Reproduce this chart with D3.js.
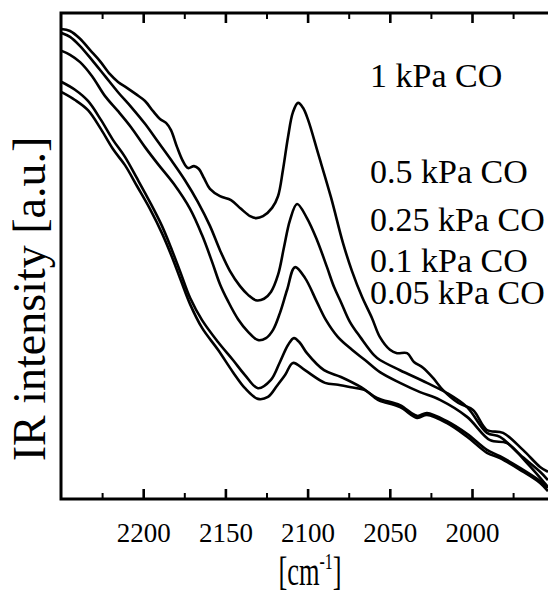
<!DOCTYPE html>
<html>
<head>
<meta charset="utf-8">
<script src="https://cdn.jsdelivr.net/npm/d3@7"></script>
<style>
  html, body { margin: 0; padding: 0; background: #fff; }
  svg { display: block; }
  text { font-family: "Liberation Serif", "Times New Roman", serif; fill: #000; }
</style>
</head>
<body>
<script>
// ---- data (wavenumber [cm-1], IR intensity [a.u.]) ----
const labels = ["1 kPa CO", "0.5 kPa CO", "0.25 kPa CO", "0.1 kPa CO", "0.05 kPa CO"];

const co1 = [[2250,96.7],[2244.5,96.3],[2238.4,94.7],[2232.4,92.4],[2226.3,90.1],[2220.2,87.4],[2215.3,85.8],[2209.9,84.6],[2204.4,83.3],[2198.9,81.9],[2194,79.8],[2189.8,78.2],[2186.1,77.4],[2183.1,75.9],[2179.4,72.4],[2175.8,69.5],[2172.7,68.1],[2169.1,68.5],[2166.1,67.9],[2163,66.0],[2159.4,63.8],[2153.3,62.3],[2146.6,61.5],[2140.5,59.7],[2135,58.2],[2131.4,57.8],[2127.1,58.2],[2121.6,59.9],[2118,62.3],[2115,67.7],[2111.9,74.5],[2108.9,79.6],[2105.8,81.5],[2102.8,80.5],[2099.7,78.0],[2093.7,71.2],[2085.8,62.1],[2078.5,52.7],[2073,46.9],[2066.9,41.6],[2060.8,37.2],[2056,33.3],[2049.9,30.7],[2045.6,30.0],[2039.5,30.0],[2035.3,28.2],[2029.8,27.0],[2023.7,24.9],[2017.6,22.4],[2008.5,19.8],[1999.4,18.3],[1990.9,14.2],[1981.1,13.6],[1969,10.1],[1958.6,6.6],[1953.8,5.6]];

const co05 = [[2249.6,95.9],[2244.5,95.1],[2238.4,93.2],[2231.1,90.3],[2223.2,87.0],[2215.3,83.7],[2207.4,80.7],[2198.9,77.2],[2191,73.5],[2183.1,69.8],[2174.6,65.6],[2166.7,61.1],[2159.4,56.2],[2153.3,51.2],[2147.2,46.9],[2141.1,43.8],[2136.2,42.0],[2131.4,40.9],[2126.5,41.2],[2122.3,42.6],[2118,46.1],[2114.3,51.9],[2110.7,57.4],[2106.4,60.7],[2100.4,57.8],[2094.3,53.3],[2088.2,47.7],[2083.9,43.6],[2079.7,40.5],[2074.2,36.4],[2067.5,33.1],[2059.6,29.6],[2056,28.6],[2043.8,26.5],[2027.4,23.9],[2015.2,21.8],[2003,18.9],[1990.9,13.6],[1983,12.8],[1970.8,9.1],[1958.6,5.6],[1953.8,3.9]];

const co025 = [[2249.6,92.2],[2244.5,91.4],[2238.4,89.9],[2231.1,87.0],[2223.2,82.9],[2215.3,79.8],[2207.4,76.5],[2198.9,72.4],[2191,68.9],[2181.3,64.8],[2171.5,59.7],[2164.2,54.3],[2158.1,48.8],[2153.3,44.2],[2148.4,40.7],[2142.3,37.0],[2136.2,34.4],[2130.2,32.7],[2125.3,33.1],[2121,34.8],[2116.8,38.3],[2112.5,43.0],[2107.7,47.7],[2101.6,45.5],[2094.3,40.5],[2088.8,36.8],[2081.5,33.3],[2073,30.7],[2065.1,28.6],[2056,26.1],[2043.8,23.9],[2031.6,22.0],[2019.5,20.4],[2003,16.9],[1989,12.1],[1978.7,11.5],[1966.5,7.4],[1953.8,2.5]];

const co01 = [[2249.6,85.8],[2241.5,84.2],[2233.6,81.9],[2225.7,78.0],[2218.4,73.9],[2211.1,70.4],[2203.8,66.0],[2195.9,61.1],[2188.6,56.2],[2182.5,51.2],[2177,46.3],[2171.5,41.4],[2164.2,36.8],[2154.5,32.3],[2145.4,28.6],[2138.1,25.5],[2130.2,22.8],[2122.3,24.5],[2116.8,28.2],[2111.9,31.7],[2108.3,33.1],[2104.6,32.1],[2100.4,30.0],[2090,26.5],[2079.7,25.1],[2067.5,23.0],[2057.8,20.8],[2043.8,19.3],[2033.4,17.1],[2027.4,17.7],[2015.2,16.0],[2003,13.4],[1990.9,10.1],[1983,8.8],[1970.8,6.4],[1958.6,3.7],[1953.8,2.3]];

const co005 = [[2249.6,83.7],[2241.5,82.1],[2233.6,80.0],[2225.7,76.1],[2218.4,72.0],[2211.1,68.7],[2203.8,64.4],[2195.9,59.7],[2188.6,54.7],[2182.5,49.8],[2177,44.9],[2171.5,40.1],[2164.2,35.2],[2154.5,30.7],[2145.4,26.1],[2138.1,22.8],[2130.2,20.6],[2124.1,21.0],[2118.6,23.3],[2113.7,25.5],[2108.9,28.0],[2101.6,26.5],[2089.4,23.9],[2081.5,23.5],[2073.6,23.0],[2065.1,22.4],[2059,20.8],[2056,20.2],[2043.8,18.9],[2033.4,16.7],[2027.4,17.3],[2015.2,15.6],[2003,12.8],[1990.9,9.5],[1983,8.4],[1970.8,6.0],[1958.6,3.3],[1953.8,1.6]];

const series = [co1, co05, co025, co01, co005];
const majorTicks = [2200, 2150, 2100, 2050, 2000];
const minorTicks = [2225, 2175, 2125, 2075, 2025, 1975];
const xTitle = "[cm";
const xTitleSup = "-1";
const yTitle = "IR intensity [a.u.]";

// ---- layout ----
const W = 548, H = 594;
const mLeft = 61, mTop = 13, mBottom = 499;
const xDomain = [2250, 1950];
const pxPerUnit = 1.644;
const FONT = "Liberation Serif, Times New Roman, serif";

const svg = d3.select("body").append("svg").attr("width", W).attr("height", H);

const x = d3.scaleLinear().domain(xDomain).range([mLeft, mLeft + (xDomain[0] - xDomain[1]) * pxPerUnit]);
const y = d3.scaleLinear().domain([0, 100]).range([mBottom, mTop]);

svg.append("defs").append("clipPath").attr("id", "clip")
  .append("rect").attr("x", mLeft).attr("y", mTop).attr("width", W - mLeft).attr("height", mBottom - mTop);

// lines
const line = d3.line()
  .x(d => x(d[0]))
  .y(d => y(d[1]))
  .curve(d3.curveCatmullRom.alpha(0.5));

svg.append("g").attr("clip-path", "url(#clip)")
  .selectAll("path").data(series).join("path")
  .attr("d", line)
  .attr("fill", "none")
  .attr("stroke", "#000")
  .attr("stroke-width", 2.6)
  .attr("stroke-linejoin", "round");

// axes
const bottomAxis = d3.axisBottom(x).tickValues(majorTicks).tickSizeInner(-10).tickSizeOuter(0).tickPadding(0).tickFormat(d3.format("d"));
const gB = svg.append("g").attr("transform", `translate(0,${mBottom})`).call(bottomAxis);
gB.attr("font-family", FONT);
gB.select(".domain").remove();
gB.selectAll(".tick line").attr("stroke", "#000").attr("stroke-width", 2.6);
gB.selectAll(".tick text").attr("y", 43).attr("dy", null).attr("font-size", 27).attr("font-family", FONT);

const gBm = svg.append("g").attr("transform", `translate(0,${mBottom})`)
  .call(d3.axisBottom(x).tickValues(minorTicks).tickSizeInner(-6).tickSizeOuter(0).tickFormat(""));
gBm.select(".domain").remove();
gBm.selectAll(".tick line").attr("stroke", "#000").attr("stroke-width", 2);

const gT = svg.append("g").attr("transform", `translate(0,${mTop})`)
  .call(d3.axisTop(x).tickValues(majorTicks).tickSizeInner(-10).tickSizeOuter(0).tickFormat(""));
gT.select(".domain").remove();
gT.selectAll(".tick line").attr("stroke", "#000").attr("stroke-width", 2.6);

const gTm = svg.append("g").attr("transform", `translate(0,${mTop})`)
  .call(d3.axisTop(x).tickValues(minorTicks).tickSizeInner(-6).tickSizeOuter(0).tickFormat(""));
gTm.select(".domain").remove();
gTm.selectAll(".tick line").attr("stroke", "#000").attr("stroke-width", 2);

// frame lines (left, top, bottom)
svg.append("path")
  .attr("d", `M${W + 5},${mTop} H${mLeft} V${mBottom} H${W + 5}`)
  .attr("fill", "none").attr("stroke", "#000").attr("stroke-width", 3);

// legend labels
const labelY = [87, 183, 231, 272, 304];
svg.append("g").selectAll("text").data(labels).join("text")
  .attr("x", 370).attr("y", (d, i) => labelY[i])
  .attr("font-family", FONT)
  .attr("font-size", 34)
  .text(d => d);

// x title
const xt = svg.append("text")
  .attr("transform", "translate(310,585) scale(0.66,1)")
  .attr("text-anchor", "middle")
  .attr("font-family", FONT)
  .attr("font-size", 40);
xt.append("tspan").text(xTitle);
xt.append("tspan").attr("font-size", 24).attr("dy", -16).text(xTitleSup);
xt.append("tspan").attr("dy", 16).text("]");

// y title
svg.append("text")
  .attr("transform", "translate(45,299) rotate(-90)")
  .attr("text-anchor", "middle")
  .attr("font-family", FONT)
  .attr("font-size", 46)
  .text(yTitle);
</script>
</body>
</html>
